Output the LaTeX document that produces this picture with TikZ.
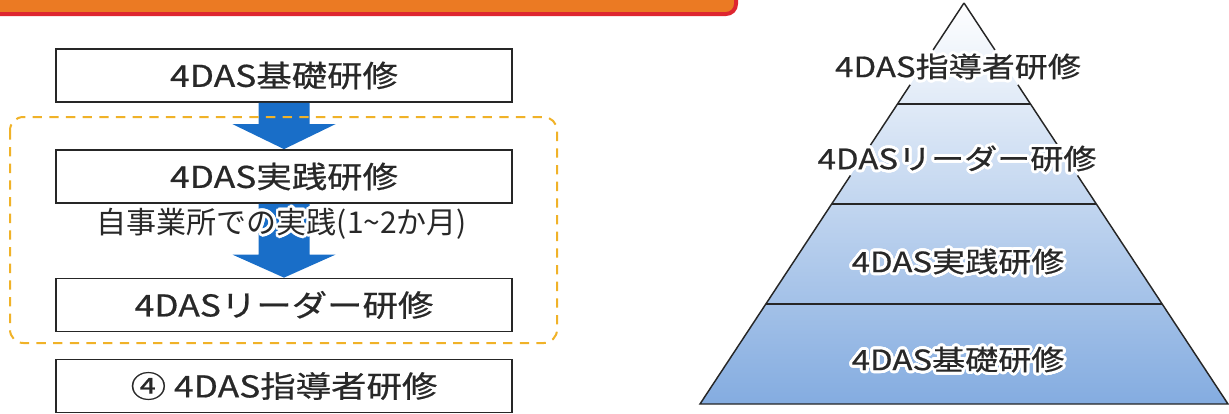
\documentclass[tikz,border=0pt]{standalone}
\usepackage{fontspec}
\usepackage{contour}
\newfontfamily\jpw[FakeStretch=1.18,FakeBold=0.6]{Noto Sans CJK JP}
\newfontfamily\jpn{Noto Sans CJK JP}
\usetikzlibrary{calc}
\definecolor{barorange}{RGB}{235,122,35}
\definecolor{barred}{RGB}{222,38,48}
\definecolor{dashorange}{RGB}{240,178,40}
\definecolor{arrowblue}{RGB}{25,110,200}
\definecolor{txtgray}{RGB}{40,40,40}
\definecolor{pyrblue}{RGB}{132,172,224}
\contournumber{24}
\begin{document}
\begin{tikzpicture}[x=0.75pt,y=-0.75pt,
  stagebox/.style={draw=black!85, line width=1.3pt, fill=white, minimum width=342pt, minimum height=39.75pt, inner sep=0pt, text=txtgray, font=\jpw\fontsize{22.5}{26}\selectfont},
  flowarrow/.style={fill=arrowblue},
  pyrlabel/.style={text=txtgray, inner sep=0pt, font=\jpw\fontsize{21}{25}\selectfont},
  pyredge/.style={draw=black!85, line width=1.1pt}]
\useasboundingbox (0,0) rectangle (1229,414);
% top bar
\draw[barred, line width=3pt, fill=barorange, rounded corners=7.5pt] (-30,-40) rectangle (736,14);
% boxes
\node[stagebox] (b1) at (284,75.5) {4DAS基礎研修};
\node[stagebox] (b2) at (284,176.5) {4DAS実践研修};
\node[stagebox] (b3) at (284,305) {4DASリーダー研修};
\node[stagebox] (b4) at (284,386) {④ 4DAS指導者研修};
% arrows
\fill[flowarrow] ($(b1.south)+(-25.5,0)$) -- ($(b2.north)+(-25.5,-25)$) -- ($(b2.north)+(-51.5,-25)$) -- (b2.north) -- ($(b2.north)+(51.5,-25)$) -- ($(b2.north)+(25.5,-25)$) -- ($(b1.south)+(25.5,0)$) -- cycle;
\fill[flowarrow] ($(b2.south)+(-25.5,0)$) -- ($(b3.north)+(-25.5,-23)$) -- ($(b3.north)+(-51.5,-23)$) -- (b3.north) -- ($(b3.north)+(51.5,-23)$) -- ($(b3.north)+(25.5,-23)$) -- ($(b2.south)+(25.5,0)$) -- cycle;
% dashed group
\draw[dashorange, line width=1.5pt, dash pattern=on 7pt off 5.5pt, rounded corners=10pt] (10,117) rectangle (557,343);
% middle text
\contourlength{2pt}
\node[text=txtgray, inner sep=0pt, font=\jpn\fontsize{22.5}{25}\selectfont] (mid) at (282,225) {\contour{white}{自事業所での実践(1\textasciitilde2か月)}};
% pyramid
\coordinate (A) at (964,3);
\coordinate (L) at (700,404);
\coordinate (R) at (1228,404);
\shade[top color=white, bottom color=pyrblue] (A) -- (L) -- (R) -- cycle;
\draw[pyredge, line join=miter] (A) -- ($(A)!0.117!(L)$);
\draw[pyredge] ($(A)!0.204!(L)$) -- ($(A)!0.354!(L)$);
\draw[pyredge, line join=miter] ($(A)!0.430!(L)$) -- (L) -- (R) -- ($(A)!0.430!(R)$);
\draw[pyredge] ($(A)!0.354!(R)$) -- ($(A)!0.204!(R)$);
\draw[pyredge, line join=miter] ($(A)!0.117!(R)$) -- (A);
\draw[pyredge] ($(A)!0.252!(L)$) -- ($(A)!0.252!(R)$);
\draw[pyredge] ($(A)!0.501!(L)$) -- ($(A)!0.501!(R)$);
\draw[pyredge] ($(A)!0.751!(L)$) -- ($(A)!0.751!(R)$);
\contourlength{2.2pt}
\node[pyrlabel] (p4) at (958,68) {\contour{white}{4DAS指導者研修}};
\node[pyrlabel] (p3) at (957,160) {\contour{white}{4DASリーダー研修}};
\node[pyrlabel] (p2) at (958,263) {\contour{white}{4DAS実践研修}};
\node[pyrlabel] (p1) at (958,361) {\contour{white}{4DAS基礎研修}};
\end{tikzpicture}
\end{document}
